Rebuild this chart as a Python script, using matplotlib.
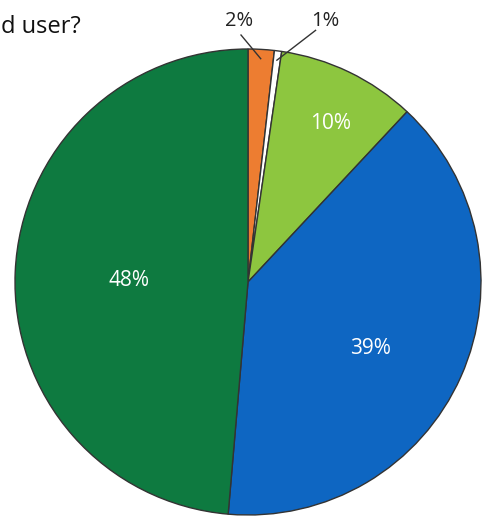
import matplotlib.pyplot as plt
import numpy as np

# slices, clockwise from 12 o'clock
labels = ["2%", "1%", "10%", "39%", "48%"]
shares = [1.8, 0.5, 9.6, 39.2, 48.4]
colors = ["#ED7D31", "#FFFFFF", "#8DC63F", "#0E66C2", "#0E7A40"]
title_tail = "d user?"

plt.rcParams['font.family'] = ['Open Sans', 'DejaVu Sans']

fig = plt.figure(figsize=(4.82, 5.18), dpi=100)
ax = fig.add_axes([0, 0, 1, 1])

wedges, _ = ax.pie(shares, colors=colors, startangle=90, counterclock=False,
                   radius=1, wedgeprops=dict(edgecolor="#333333", linewidth=1.0))

# scale: pie radius = 233 px, centre at (248, 282) px from top-left
r_px = 233.0
ax.set_xlim(-248 / r_px, (482 - 248) / r_px)
ax.set_ylim(-(518 - 282) / r_px, 282 / r_px)
ax.set_aspect('equal')
ax.axis('off')

# labels inside the big slices (position in pie-radius units)
inner_pos = {2: (0.355, 0.68), 3: (0.525, -0.285), 4: (-0.51, 0.005)}
for i, (tx, ty) in inner_pos.items():
    ax.text(tx, ty, labels[i], color="white",
            fontsize=15, ha="center", va="center")

# small slices get labels outside with leader lines
outside = {0: (-0.04, 1.12), 1: (0.33, 1.12)}
tail = {0: (-0.03, 1.06), 1: (0.29, 1.08)}
for i, (tx, ty) in outside.items():
    w = wedges[i]
    ang = np.deg2rad((w.theta1 + w.theta2) / 2)
    ex, ey = 0.96 * np.cos(ang), 0.96 * np.sin(ang)
    ax.plot([tail[i][0], ex], [tail[i][1], ey], color="#333333", lw=1.0)
    ax.text(tx, ty, labels[i], color="#222222", fontsize=14.5,
            ha="center", va="center")

fig.text(0.002, 0.948, title_tail, fontsize=17, color="#111111",
         ha="left", va="center")

fig.savefig("out.png", dpi=100, facecolor="white")
